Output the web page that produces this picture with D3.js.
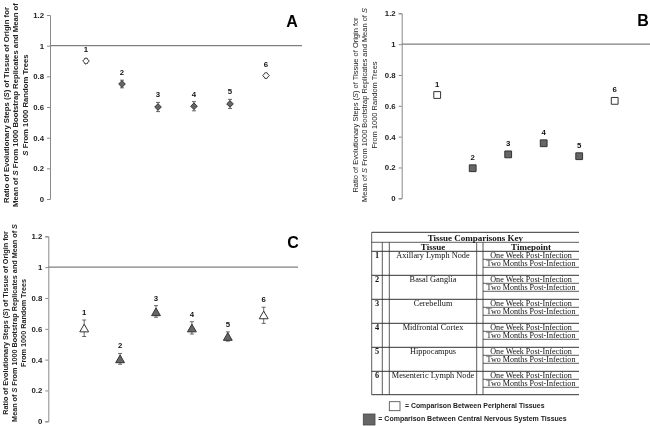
<!DOCTYPE html>
<html><head><meta charset="utf-8">
<script src="https://cdn.jsdelivr.net/npm/d3@7"></script>
<style>body{margin:0;background:#fff}svg{display:block;will-change:transform;transform:translateZ(0)}</style>
</head><body>
<script>
// ---- data ----
const categories = [1, 2, 3, 4, 5, 6];
const peripheral = [true, false, false, false, false, true];
const yTicks = [0, 0.2, 0.4, 0.6, 0.8, 1, 1.2];
const valuesA = [0.90, 0.75, 0.60, 0.605, 0.62, 0.805];
const errUpA  = [0.015, 0.025, 0.03, 0.03, 0.03, 0.015];
const errLoA  = [0.015, 0.025, 0.03, 0.03, 0.03, 0.015];
const valuesB = [0.67, 0.195, 0.285, 0.357, 0.273, 0.632];
const errUpB  = [0, 0, 0, 0, 0, 0];
const errLoB  = [0, 0, 0, 0, 0, 0];
const valuesC = [0.60, 0.40, 0.705, 0.60, 0.545, 0.685];
const errUpC  = [0.057, 0.04, 0.045, 0.046, 0.035, 0.055];
const errLoC  = [0.05, 0.03, 0.03, 0.034, 0.025, 0.05];
const yLabelA = ["Ratio of Evolutionary Steps (|S|) of Tissue of Origin for", "Mean of |S| From 1000 Bootstrap Replicates and Mean of", "|S| From 1000 Random Trees"];
const yLabelBC = ["Ratio of Evolutionary Steps (|S|) of Tissue of Origin for", "Mean of |S| From 1000 Bootstrap Replicates and Mean of |S|", "From 1000 Random Trees"];
const tissues = ["Axillary Lymph Node", "Basal Ganglia", "Cerebellum", "Midfrontal Cortex", "Hippocampus", "Mesenteric Lymph Node"];
const timepoints = ["One Week Post-Infection", "Two Months Post-Infection"];
const legendItems = ["= Comparison Between Peripheral Tissues", "= Comparison Between Central Nervous System Tissues"];

const W = 650, H = 426;
const svg = d3.select("body").append("svg").attr("width", W).attr("height", H);
const sans = "Liberation Sans, Arial, sans-serif";
const serif = "Liberation Serif, Times New Roman, serif";

const symbolRhomb = { draw(ctx, size) { const r = Math.sqrt(size / 2); ctx.moveTo(0, -r); ctx.lineTo(r, 0); ctx.lineTo(0, r); ctx.lineTo(-r, 0); ctx.closePath(); } };

function panel(cfg) {
  const g = svg.append("g");
  const x = d3.scaleLinear().domain([0, 7]).range([cfg.x0, cfg.x0 + 7 * cfg.step]);
  const y = d3.scaleLinear().domain([0, 1.2]).range([cfg.y0, cfg.y1]);
  const ax = g.append("g").attr("transform", `translate(${cfg.x0},0)`)
    .call(d3.axisLeft(y).tickValues(yTicks).tickSize(3).tickPadding(3)
      .tickFormat(d => d3.format("")(+d.toFixed(1))));
  ax.select(".domain").attr("stroke", "#8a8a8a");
  ax.selectAll(".tick line").attr("stroke", "#8a8a8a");
  ax.selectAll("text").attr("font-family", sans).attr("font-size", 7.8)
    .attr("font-weight", "bold").attr("fill", "#222");
  g.append("line").attr("x1", cfg.x0).attr("x2", cfg.lineEnd)
    .attr("y1", y(1)).attr("y2", y(1)).attr("stroke", "#808080").attr("stroke-width", 1.2);
  // y label, sized so its longest line spans cfg.labelLen pixels
  const lbl = g.append("text").attr("font-family", sans).attr("font-size", 10)
    .attr("font-weight", cfg.labelBold ? "bold" : "normal").attr("fill", "#222")
    .attr("text-anchor", "middle")
    .attr("transform", `translate(${cfg.labelX},${cfg.labelY}) rotate(-90)`);
  const lines = cfg.label.map((line, i) => {
    const t = lbl.append("tspan").attr("x", 0).attr("y", i * 9.4);
    line.split("|").forEach((part, k) => {
      t.append("tspan").attr("font-style", k % 2 ? "italic" : "normal").text(part);
    });
    return t;
  });
  const maxLen = d3.max(lines, t => t.node().getComputedTextLength());
  if (maxLen > 0) lbl.attr("font-size", 10 * cfg.labelLen / maxLen);
  g.append("text").attr("x", cfg.letterX).attr("y", cfg.letterY).attr("text-anchor", "middle")
    .attr("font-family", sans).attr("font-weight", "bold").attr("font-size", 16).text(cfg.letter);
  categories.forEach((c, i) => {
    const cx = x(c), cy = y(cfg.values[i]);
    const top = y(cfg.values[i] + cfg.up[i]), bot = y(cfg.values[i] - cfg.lo[i]);
    if (cfg.up[i] > 0) {
      g.append("line").attr("x1", cx).attr("x2", cx).attr("y1", top).attr("y2", bot).attr("stroke", "#444").attr("stroke-width", 0.8);
      [top, bot].forEach(yy => g.append("line").attr("x1", cx - 2).attr("x2", cx + 2).attr("y1", yy).attr("y2", yy).attr("stroke", "#444").attr("stroke-width", 0.8));
    }
    const sym = d3.symbol().type(cfg.shape).size(cfg.size);
    g.append("path").attr("d", sym()).attr("transform", `translate(${cx},${cy + (cfg.shape === d3.symbolTriangle ? 0.5 : 0)})`)
      .attr("fill", peripheral[i] ? "#fff" : "#666").attr("stroke", "#333").attr("stroke-width", 1);
    g.append("text").attr("x", cx).attr("y", Math.min(top, cy - cfg.half) - 5).attr("text-anchor", "middle")
      .attr("font-family", sans).attr("font-size", 7.8).attr("font-weight", "bold").attr("fill", "#111").text(c);
  });
}

panel({x0: 50, step: 36, y0: 199, y1: 15, lineEnd: 302, values: valuesA, up: errUpA, lo: errLoA,
  shape: symbolRhomb, size: 22, half: 4, label: yLabelA, labelBold: true, labelLen: 204, labelX: 9, labelY: 105,
  letter: "A", letterX: 292, letterY: 27});
panel({x0: 401.7, step: 35.5, y0: 198.3, y1: 13.3, lineEnd: 650, values: valuesB, up: errUpB, lo: errLoB,
  shape: d3.symbolSquare, size: 46, half: 3.5, label: yLabelBC, labelBold: false, labelLen: 194, labelX: 358, labelY: 105,
  letter: "B", letterX: 643, letterY: 26});
panel({x0: 48.3, step: 35.9, y0: 421.3, y1: 236.3, lineEnd: 298, values: valuesC, up: errUpC, lo: errLoC,
  shape: d3.symbolTriangle, size: 34, half: 4, label: yLabelBC, labelBold: true, labelLen: 198, labelX: 7.5, labelY: 323,
  letter: "C", letterX: 293, letterY: 248});

// ---- legend table ----
const L = svg.append("g").attr("stroke", "#333").attr("stroke-width", 0.8);
const tx0 = 371.7, tx1 = 579, ty0 = 232.3, tyTitle = 242.3, tyHead = 251.3, rowH = 24, ty1 = tyHead + 6 * rowH - 0.6;
const cols = [382.3, 389.3, 476.7, 483];
const hl = (x1, x2, yy, w) => L.append("line").attr("x1", x1).attr("x2", x2).attr("y1", yy).attr("y2", yy).attr("stroke-width", w || 0.8);
const vl = (xx, y1, y2) => L.append("line").attr("x1", xx).attr("x2", xx).attr("y1", y1).attr("y2", y2);
hl(tx0, tx1, ty0, 1); hl(tx0, tx1, tyTitle); hl(tx0, tx1, tyHead, 1);
vl(tx0, ty0, ty1); cols.forEach(c => vl(c, tyTitle, ty1));
const T = svg.append("g").attr("font-family", serif).attr("fill", "#111");
T.append("text").attr("x", (tx0 + tx1) / 2).attr("y", 240.8).attr("text-anchor", "middle")
  .attr("font-size", 9).attr("font-weight", "bold").text("Tissue Comparisons Key");
T.append("text").attr("x", (cols[1] + cols[2]) / 2).attr("y", 249.6).attr("text-anchor", "middle")
  .attr("font-size", 9).attr("font-weight", "bold").text("Tissue");
T.append("text").attr("x", (cols[3] + tx1) / 2).attr("y", 249.6).attr("text-anchor", "middle")
  .attr("font-size", 9).attr("font-weight", "bold").text("Timepoint");
categories.forEach((c, i) => {
  const gy = tyHead + i * rowH;
  if (i > 0) hl(tx0, tx1, gy, 1);
  hl(cols[3], tx1, gy + 8); hl(cols[3], tx1, gy + 16);
  T.append("text").attr("x", 377).attr("y", gy + 7).attr("text-anchor", "middle")
    .attr("font-size", 8.3).attr("font-weight", "bold").text(c);
  T.append("text").attr("x", (cols[1] + cols[2]) / 2).attr("y", gy + 6.8).attr("text-anchor", "middle")
    .attr("font-size", 8.3).text(tissues[i]);
  timepoints.forEach((tp, k) => T.append("text").attr("x", (cols[3] + tx1) / 2).attr("y", gy + 6.8 + k * 8)
    .attr("text-anchor", "middle").attr("font-size", 8.1).text(tp));
});
hl(tx0, tx1, ty1, 1);

svg.append("rect").attr("x", 389.3).attr("y", 401.7).attr("width", 10.7).attr("height", 9)
  .attr("fill", "#fff").attr("stroke", "#444").attr("stroke-width", 0.8);
svg.append("rect").attr("x", 363.3).attr("y", 414).attr("width", 11.7).attr("height", 11)
  .attr("fill", "#666").attr("stroke", "#444").attr("stroke-width", 0.8);
svg.append("text").attr("x", 405).attr("y", 408).attr("font-family", sans).attr("font-size", 6.9)
  .attr("font-weight", "bold").attr("fill", "#222").text(legendItems[0]);
svg.append("text").attr("x", 378.3).attr("y", 421).attr("font-family", sans).attr("font-size", 7)
  .attr("font-weight", "bold").attr("fill", "#222").text(legendItems[1]);
</script>
</body></html>
